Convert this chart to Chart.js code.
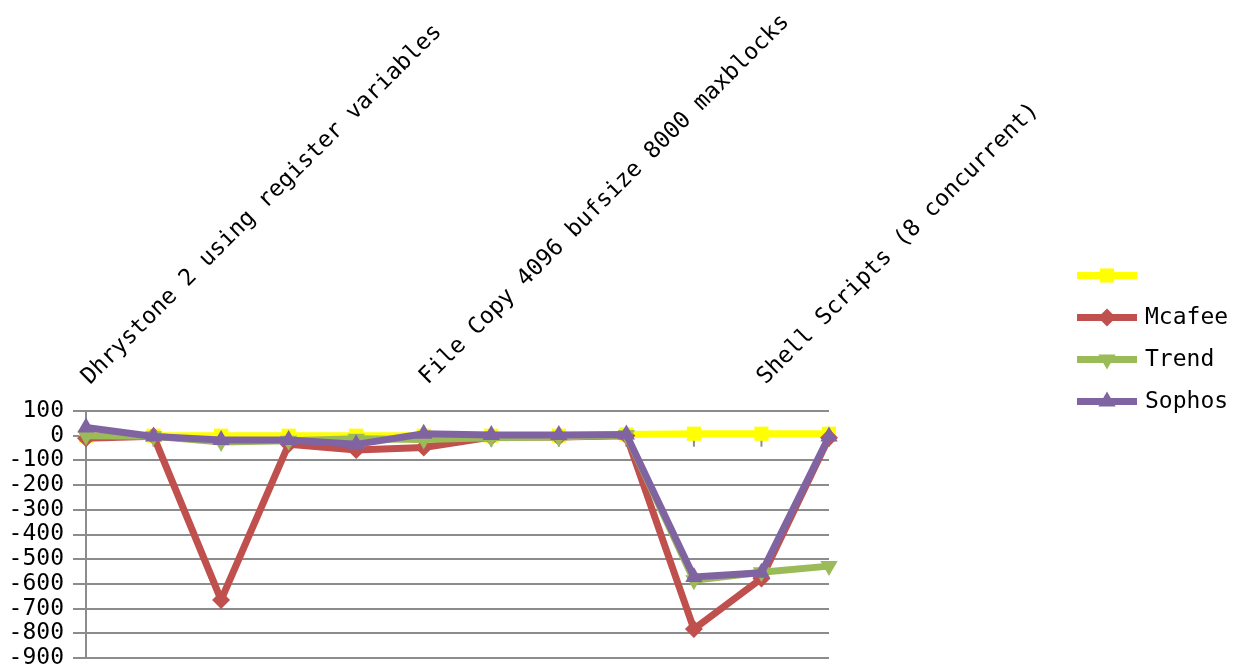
<!DOCTYPE html>
<html>
<head>
<meta charset="utf-8">
<script src="https://cdn.jsdelivr.net/npm/chart.js@4/dist/chart.umd.min.js"></script>
<style>
    html, body { margin: 0; padding: 0; background: #ffffff; }
    #wrap { width: 1247px; height: 671px; position: relative; }
</style>
</head>
<body>
<div id="wrap"><canvas id="benchChart"></canvas></div>
<script>
// ============================================================================
// Data
// ============================================================================

const categories = [
    'Dhrystone 2 using register variables',
    'Double-Precision Whetstone',
    'Execl Throughput',
    'File Copy 1024 bufsize 2000 maxblocks',
    'File Copy 256 bufsize 500 maxblocks',
    'File Copy 4096 bufsize 8000 maxblocks',
    'Pipe Throughput',
    'Pipe-based Context Switching',
    'Process Creation',
    'Shell Scripts (1 concurrent)',
    'Shell Scripts (8 concurrent)',
    'System Call Overhead'
];

const baseValues   = [0, 0, 0, 0, 0, 0, 0, 0, 5, 8, 8, 8];
const mcafeeValues = [-10, -2, -665, -35, -58, -48, -5, -5, 0, -783, -578, -8];
const trendValues  = [0, -2, -25, -20, -12, -15, -8, -5, 3, -585, -553, -528];
const sophosValues = [33, -3, -17, -17, -35, 8, 3, 3, 5, -572, -555, -3];

const yTicks = [100, 0, -100, -200, -300, -400, -500, -600, -700, -800, -900];

// ============================================================================
// Styling
// ============================================================================

const FONT = '"DejaVu Sans Mono", "Liberation Mono", monospace';
const GRID = '#8c8c8c';

// order: Excel paints later series on top, Chart.js paints lower `order` on top
const series = [
    { label: '',       data: baseValues,   color: '#ffff00', style: 'rect',     radius: 10, rotation: 0,   order: 4 },
    { label: 'Mcafee', data: mcafeeValues, color: '#c0504d', style: 'rectRot',  radius: 9,  rotation: 0,   order: 3 },
    { label: 'Trend',  data: trendValues,  color: '#9bbb59', style: 'triangle', radius: 10, rotation: 180, order: 2 },
    { label: 'Sophos', data: sophosValues, color: '#8064a2', style: 'triangle', radius: 10, rotation: 0,   order: 1 }
];

// small tick marks hanging under the zero line (category axis crossing)
const zeroTicks = {
    id: 'zeroTicks',
    beforeDatasetsDraw(chart) {
        const { ctx, scales } = chart;
        const y0 = scales.y.getPixelForValue(0);
        ctx.save();
        ctx.strokeStyle = GRID;
        ctx.lineWidth = 2;
        categories.forEach((c, i) => {
            const x = scales.x.getPixelForValue(i);
            ctx.beginPath();
            ctx.moveTo(x, y0);
            ctx.lineTo(x, y0 + 11);
            ctx.stroke();
        });
        ctx.restore();
    }
};

// legend: line sample with marker, drawn on the right
const lineLegend = {
    id: 'lineLegend',
    afterDraw(chart) {
        const ctx = chart.ctx;
        const left = chart.chartArea.right + 248;
        const rowGap = 42;
        const top = chart.height / 2 - rowGap * (series.length - 1) / 2 + 3;
        ctx.save();
        ctx.font = '23px ' + FONT;
        ctx.textBaseline = 'middle';
        series.forEach((s, i) => {
            const y = top + i * rowGap;
            ctx.strokeStyle = s.color;
            ctx.lineWidth = 7;
            ctx.beginPath();
            ctx.moveTo(left, y);
            ctx.lineTo(left + 60, y);
            ctx.stroke();
            ctx.fillStyle = s.color;
            Chart.helpers.drawPoint(ctx, {
                pointStyle: s.style,
                radius: s.radius,
                rotation: s.rotation,
                borderWidth: 0
            }, left + 30, y);
            ctx.fillStyle = '#000000';
            ctx.fillText(s.label, left + 68, y + 1);
        });
        ctx.restore();
    }
};

// ============================================================================
// Chart
// ============================================================================

function renderChart() {
    const ctx = document.getElementById('benchChart');

    new Chart(ctx, {
        type: 'line',
        data: {
            labels: categories,
            datasets: series.map(s => ({
                label: s.label,
                data: s.data,
                order: s.order,
                borderColor: s.color,
                backgroundColor: s.color,
                borderWidth: 7,
                tension: 0,
                pointStyle: s.style,
                pointRadius: s.radius,
                pointRotation: s.rotation,
                pointBorderWidth: 0,
                pointBackgroundColor: s.color
            }))
        },
        options: {
            responsive: true,
            maintainAspectRatio: false,
            animation: false,
            layout: {
                padding: { left: 0, right: 418, top: 6, bottom: 13 }
            },
            plugins: {
                legend: { display: false },
                tooltip: { enabled: false }
            },
            scales: {
                x: {
                    position: 'top',
                    offset: false,
                    grid: { display: false },
                    border: { display: false },
                    // the layout caps a top axis at half the height; force the room the long labels need
                    afterFit: scale => { scale.height = 405; },
                    ticks: {
                        autoSkip: false,
                        maxRotation: 45,
                        minRotation: 45,
                        padding: 14,
                        labelOffset: 16,
                        color: '#000000',
                        font: { family: FONT, size: 23, lineHeight: 1 },
                        callback: (value, index) => index % 5 === 0 ? categories[index] : ''
                    }
                },
                y: {
                    min: -900,
                    max: 100,
                    afterBuildTicks: scale => {
                        scale.ticks = yTicks.map(v => ({ value: v }));
                    },
                    afterFit: scale => {
                        scale.width = 86;
                        scale.paddingTop = 0;
                        scale.paddingBottom = 0;
                    },
                    grid: {
                        color: GRID,
                        lineWidth: 2,
                        tickLength: 13
                    },
                    border: { color: GRID, width: 2 },
                    ticks: {
                        autoSkip: false,
                        padding: 9,
                        color: '#000000',
                        font: { family: FONT, size: 23, lineHeight: 1 }
                    }
                }
            }
        },
        plugins: [zeroTicks, lineLegend]
    });
}

document.addEventListener('DOMContentLoaded', renderChart);
</script>
</body>
</html>
